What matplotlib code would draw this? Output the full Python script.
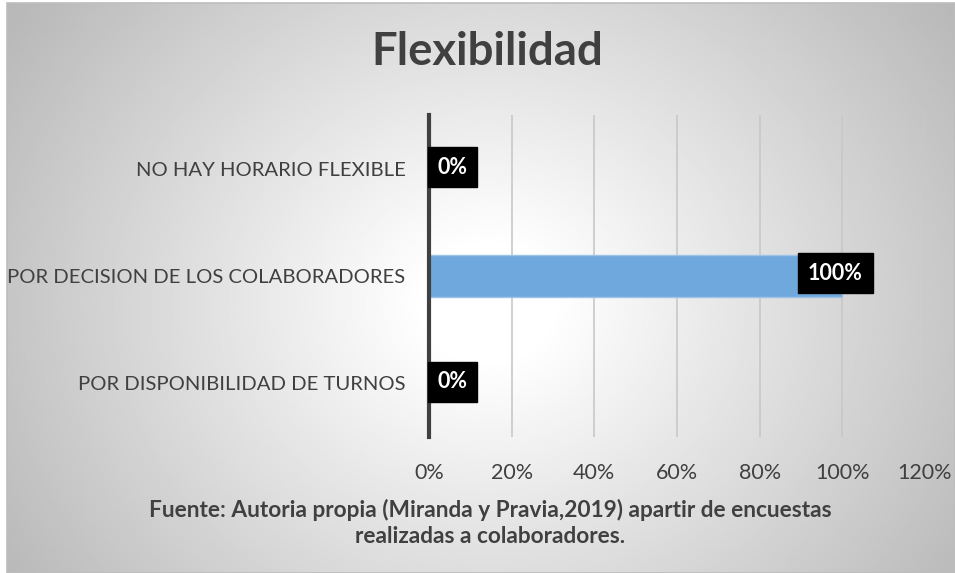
import numpy as np
import matplotlib
matplotlib.use("Agg")
import matplotlib.pyplot as plt

# Data
categories = ["POR DISPONIBILIDAD DE TURNOS",
              "POR DECISION DE LOS COLABORADORES",
              "NO HAY HORARIO FLEXIBLE"]
values = [0, 100, 0]
xticks = [0, 20, 40, 60, 80, 100, 120]
title = "Flexibilidad"
caption = ("Fuente: Autoria propia (Miranda y Pravia,2019) apartir de encuestas\n"
           "realizadas a colaboradores.")

plt.rcParams['font.family'] = ['Lato', 'DejaVu Sans']

W, H = 955, 573
fig = plt.figure(figsize=(W / 100, H / 100), dpi=100, facecolor="white")

# Background: radial gradient, white in the middle, grey at the corners
x0, y0 = 7, 3
bg = fig.add_axes([x0 / W, 0, (W - x0) / W, (H - y0) / H], zorder=0)
gx, gy = np.meshgrid(np.linspace(0, W - x0, 400), np.linspace(0, H - y0, 240))
cx, cy = 480, 300
r = np.sqrt(((gx - cx) / 540) ** 2 + ((gy - cy) / 480) ** 2)
shade = 1 - 0.25 * np.clip((r - 0.12) / 0.85, 0, 1.1)
bg.imshow(shade, cmap="gray", vmin=0, vmax=1, aspect="auto",
          extent=[0, 1, 1, 0], interpolation="bilinear")
bg.set_xlim(0, 1)
bg.set_ylim(1, 0)
bg.axis("off")
fig.add_artist(plt.Rectangle((x0 / W, 0), (W - x0) / W, (H - y0) / H,
                             transform=fig.transFigure, fill=False,
                             edgecolor="#bdbdbd", lw=1.2, zorder=1))

# Main chart
ax = fig.add_axes([429 / W, 1 - 437 / H, (925 - 429) / W, (437 - 115) / H], zorder=2)
ax.patch.set_alpha(0)
y = np.arange(len(categories))
ax.barh(y, values, height=0.4, color="#6fa8dc", edgecolor="#9dc3e6", lw=1, zorder=2)

ax.set_xlim(0, 120)
ax.set_ylim(-0.5, len(categories) - 0.5)
ax.set_xticks(xticks)
ax.set_xticklabels([f"{t}%" for t in xticks], fontsize=15.5, color="#404040")
ax.set_yticks(y)
ax.set_yticklabels(categories, fontsize=14.6, color="#404040")
ax.tick_params(length=0, axis="x", pad=19)
ax.tick_params(length=0, axis="y", pad=17)
ax.xaxis.grid(True, color="#c8c8c8", lw=1.2, zorder=0)
ax.set_axisbelow(True)
for s in ["top", "right", "bottom"]:
    ax.spines[s].set_visible(False)
ax.spines["left"].set_color("#404040")
ax.spines["left"].set_linewidth(3)
ax.spines["left"].set_zorder(3)

# Data labels (black boxes)
box = dict(boxstyle="square,pad=0.45", fc="black", ec="black")
for yi, v in zip(y, values):
    if v == 0:
        ax.annotate(f"{v}%", (0, yi), xytext=(6, 1), textcoords="offset points",
                    ha="left", va="center", fontsize=15.5, fontweight="bold", color="white",
                    bbox=box, zorder=5)
    else:
        ax.annotate(f"{v}%", (v, yi), xytext=(-5, 2), textcoords="offset points",
                    ha="center", va="center", fontsize=15.5, fontweight="bold", color="white",
                    bbox=box, zorder=5)

fig.text(487 / W, 1 - 52 / H, title, ha="center", va="center",
         fontsize=32.8, fontweight="bold", color="#404040")
fig.text(490 / W, 1 - 523 / H, caption, ha="center", va="center",
         fontsize=16.3, fontweight="bold", color="#404040", linespacing=1.25)

fig.savefig("out.png", dpi=100)
